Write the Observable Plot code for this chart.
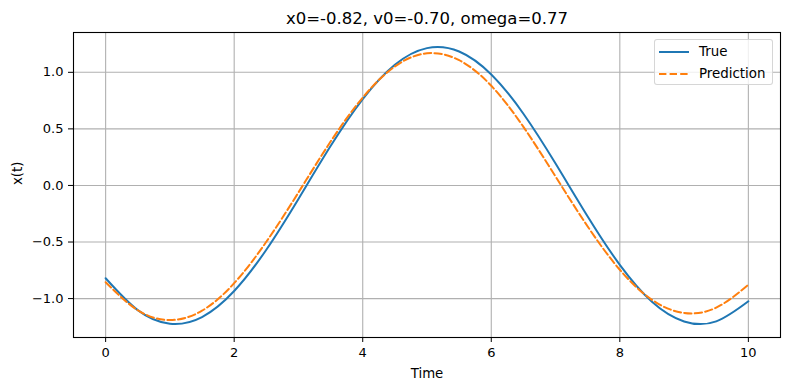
<!DOCTYPE html>
<html>
<head>
<meta charset="utf-8">
<script src="https://cdn.jsdelivr.net/npm/d3@7"></script>
<script src="https://cdn.jsdelivr.net/npm/@observablehq/plot@0.6"></script>
<style>
  html, body { margin: 0; padding: 0; background: #fff; }
  #wrap { position: relative; width: 790px; height: 390px; font-family: "DejaVu Sans", sans-serif; }
  #legend { position: absolute; left: 654px; top: 39px; width: 117px; height: 44px;
            border: 1px solid rgba(204,204,204,0.8); border-radius: 3px; background: rgba(255,255,255,0.8); }
  #legend .row { position: absolute; left: 0; height: 16px; width: 117px; }
  #legend svg { position: absolute; left: 3px; top: 0; }
  #legend span { position: absolute; left: 44px; top: 0; line-height: 16px; font-size: 13.4px; color: #000; white-space: nowrap; }
</style>
</head>
<body>
<div id="wrap"></div>
<script>
// ---- data ----
const title = "x0=-0.82, v0=-0.70, omega=0.77";
const xLabel = "Time";
const yLabel = "x(t)";
const seriesNames = ["True", "Prediction"];
const seriesColors = ["#1f77b4", "#ff7f0e"];
const times = [0, 0.5, 1, 1.5, 2, 2.5, 3, 3.5, 4, 4.5, 5, 5.5, 6, 6.5, 7, 7.5, 8, 8.5, 9, 9.5, 10];
const trueValues = [-0.820, -1.102, -1.222, -1.163, -0.933, -0.568, -0.119, 0.348, 0.763, 1.067, 1.214, 1.184, 0.981, 0.634, 0.194, -0.274, -0.702, -1.028, -1.202, -1.201, -1.024];
const predValues = [-0.856, -1.103, -1.190, -1.107, -0.864, -0.498, -0.062, 0.388, 0.777, 1.052, 1.168, 1.107, 0.881, 0.518, 0.079, -0.363, -0.745, -1.011, -1.127, -1.080, -0.877];
const xTicks = [0, 2, 4, 6, 8, 10];
const yTicks = [-1.0, -0.5, 0.0, 0.5, 1.0];

const trueRows = times.map((t, i) => ({t, v: trueValues[i]}));
const predRows = times.map((t, i) => ({t, v: predValues[i]}));

const chart = Plot.plot({
  width: 790,
  height: 390,
  marginTop: 32,
  marginLeft: 73,
  marginRight: 10,
  marginBottom: 53,
  style: {fontFamily: "DejaVu Sans, sans-serif", fontSize: "13px", color: "#000", background: "#fff"},
  x: {domain: [-0.5, 10.5]},
  y: {domain: [-1.344, 1.352]},
  marks: [
    Plot.gridX(xTicks, {stroke: "#b0b0b0", strokeOpacity: 1, strokeWidth: 1.1}),
    Plot.gridY(yTicks, {stroke: "#b0b0b0", strokeOpacity: 1, strokeWidth: 1.1}),
    Plot.line(trueRows, {x: "t", y: "v", stroke: seriesColors[0], strokeWidth: 2, curve: "natural"}),
    Plot.line(predRows, {x: "t", y: "v", stroke: seriesColors[1], strokeWidth: 2, strokeDasharray: "7.4,3.2", curve: "natural"}),
    Plot.frame({stroke: "#000", strokeWidth: 1.1}),
    Plot.axisX(xTicks, {tickSize: 5, tickPadding: 5, fontSize: 13, label: null, tickFormat: d => String(d)}),
    Plot.axisY(yTicks, {tickSize: 5, tickPadding: 5, fontSize: 13, label: null, tickFormat: d3.format(".1f")}),
    Plot.text([title], {frameAnchor: "top", dy: -13.5, fontSize: 16.5, fill: "#000", lineAnchor: "middle"}),
    Plot.text([xLabel], {frameAnchor: "bottom", dy: 36, fontSize: 13.3, fill: "#000", lineAnchor: "middle"}),
    Plot.text([yLabel], {frameAnchor: "left", dx: -56, rotate: -90, fontSize: 13.3, fill: "#000", lineAnchor: "middle"})
  ]
});

const wrap = document.getElementById("wrap");
wrap.appendChild(chart);

// legend
const legend = document.createElement("div");
legend.id = "legend";
const rowTops = [4, 25.5];
seriesNames.forEach((name, i) => {
  const row = document.createElement("div");
  row.className = "row";
  row.style.top = rowTops[i] + "px";
  const dash = i === 1 ? ' stroke-dasharray="7.4,3.2"' : '';
  row.innerHTML = `<svg width="32" height="16"><line x1="1" x2="31" y1="8" y2="8" stroke="${seriesColors[i]}" stroke-width="2"${dash}/></svg><span>${name}</span>`;
  legend.appendChild(row);
});
wrap.appendChild(legend);
</script>
</body>
</html>
